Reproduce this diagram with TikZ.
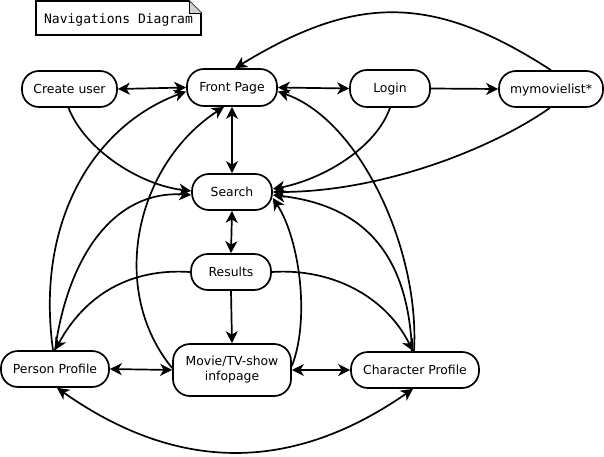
\documentclass[tikz,border=0pt]{standalone}
\usepackage{fontspec}
\setmainfont{DejaVu Sans}
\newfontfamily\monofont{DejaVu Sans Mono}
\usetikzlibrary{arrows.meta}
\begin{document}
\begin{tikzpicture}[x=1pt,y=-1pt,
  basebox/.style={draw, line width=1.7pt, rounded corners=17pt, minimum height=36pt, inner sep=0pt,
    font=\fontsize{12.4}{15}\selectfont, align=center},
  box/.style={basebox, text height=11.6pt, text depth=3pt},
  conn/.style={line width=1.7pt, -{Stealth[length=12pt,width=12pt,inset=3.5pt]}},
  biconn/.style={line width=1.7pt, {Stealth[length=12pt,width=12pt,inset=3.5pt]}-{Stealth[length=12pt,width=12pt,inset=3.5pt]}},
  notebox/.style={line width=1.6pt},
]
\useasboundingbox (0,0) rectangle (604,457);

% title note
\node[font=\monofont\fontsize{13}{15}\selectfont, inner sep=0pt, text height=10pt, text depth=3pt] (title) at (118.5,20.5) {Navigations Diagram};
\draw[notebox] (36,1) -- (189,1) -- (201,13) -- (201,35) -- (36,35) -- cycle;
\filldraw[fill=gray!35, line width=0.8pt] (189,1) -- (189,13) -- (201,13);

% nodes
\node[box, minimum width=95pt] (cu) at (69.5,89) {Create user};
\node[box, minimum width=90pt, minimum height=37pt] (fp) at (232,87.5) {Front Page};
\node[box, minimum width=80pt, minimum height=37pt] (lg) at (390,88.5) {Login};
\node[box, minimum width=104pt] (mm) at (551,89) {mymovielist*};
\node[box, minimum width=80pt] (sr) at (232,192) {Search};
\node[box, minimum width=80pt] (rs) at (231,272) {Results};
\node[box, minimum width=108pt] (pp) at (55,369) {Person Profile};
\node[basebox, minimum width=118pt, minimum height=52pt] (mv) at (232,370) {Movie/TV-show\\infopage};
\node[box, minimum width=128pt] (cp) at (415,370) {Character Profile};

% straight connectors
\draw[biconn] (cu.east) -- (fp.west);
\draw[biconn] (fp.east) -- (lg.west);
\draw[conn] (lg.east) -- (mm.west);
\draw[biconn] (fp.south) -- (sr.north);
\draw[biconn] (sr.south) -- (rs.north);
\draw[conn] (rs.south) -- (mv.north);
\draw[biconn] (pp.east) -- (mv.west);
\draw[biconn] (mv.east) -- (cp.west);

% curved connectors
\draw[conn] (mm.north) .. controls (432,-7) and (355,-5) .. ([xshift=3pt]fp.north);
\draw[conn] ([xshift=-1pt]mm.south) .. controls (490,150) and (380,192) .. (sr.east);
\draw[conn] (lg.south) .. controls (375,150) and (320,180) .. ([yshift=3pt]sr.east);
\draw[conn] ([xshift=-1pt]cu.south) .. controls (85,150) and (140,185) .. ([yshift=1pt]sr.west);
\draw[conn] (rs.west) .. controls (130,268) and (85,295) .. (pp.north);
\draw[conn] (rs.east) .. controls (330,268) and (385,295) .. ([xshift=-2pt]cp.north);
\draw[conn] ([xshift=-2pt]pp.north) .. controls (35,220) and (95,125) .. ([yshift=-4pt]fp.west);
\draw[conn] (pp.north) .. controls (68,255) and (115,190) .. ([yshift=-3pt]sr.west);
\draw[conn] ([yshift=2pt]mv.west) .. controls (108,290) and (135,165) .. ([xshift=-8pt]fp.south);
\draw[conn] ([yshift=4pt]mv.east) .. controls (310,320) and (300,240) .. ([yshift=-6pt]sr.east);
\draw[conn] ([xshift=-3pt]cp.north) .. controls (408,250) and (360,205) .. ([yshift=-3pt]sr.east);
\draw[conn] ([xshift=-1pt]cp.north) .. controls (420,250) and (360,120) .. ([yshift=-4pt]fp.east);
\draw[biconn] ([xshift=2pt]pp.south) .. controls (178,473) and (292,473) .. ([xshift=-2pt]cp.south);
\end{tikzpicture}
\end{document}
